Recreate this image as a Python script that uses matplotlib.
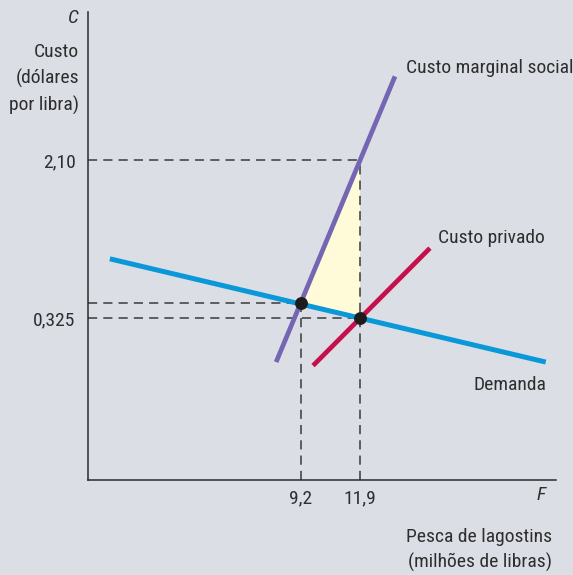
import matplotlib
matplotlib.use("Agg")
import matplotlib.pyplot as plt

# curvas (milhões de libras, dólares por libra)
demanda_x = [0.45, 20.4]
demanda_y = [0.99, -0.17]
cms_x = [8.06, 13.5]          # custo marginal social
cms_y = [-0.17, 3.04]
privado_x = [9.75, 15.1]
privado_y = [-0.21, 1.11]

# equilíbrios
eq_x = [9.2, 11.9]
eq_y = [0.49, 0.325]
cms_em_119 = 2.10

x_ticks = [9.2, 11.9]
x_labels = ["9,2", "11,9"]
y_ticks = [0.325, 2.10]
y_labels = ["0,325", "2,10"]

plt.rcParams["font.family"] = ["Roboto Condensed", "Liberation Sans Narrow", "Roboto", "DejaVu Sans"]

fundo = "#dcdee6"
cor_txt = "#2e2e2e"
fig = plt.figure(figsize=(5.73, 5.75), dpi=100, facecolor=fundo)
ax = fig.add_axes([88 / 573, 95 / 575, 468 / 573, 468 / 575], facecolor=fundo)
ax.set_xlim(-0.55, 20.87)
ax.set_ylim(-1.495, 3.763)
for s in ["top", "right"]:
    ax.spines[s].set_visible(False)
for s in ["left", "bottom"]:
    ax.spines[s].set_color("#2a2a2a")
    ax.spines[s].set_linewidth(1.1)

# área de peso morto
ax.fill([eq_x[0], eq_x[1], eq_x[1]], [eq_y[0], cms_em_119, eq_y[1]],
        color="#fffbd9", zorder=1, lw=0)

# linhas tracejadas de referência
tr = dict(color="#3a3a3a", lw=1.1, dashes=(6, 4), zorder=2)
ax.plot([-0.55, eq_x[1]], [cms_em_119, cms_em_119], **tr)
ax.plot([-0.55, eq_x[0]], [eq_y[0], eq_y[0]], **tr)
ax.plot([-0.55, eq_x[1]], [eq_y[1], eq_y[1]], **tr)
ax.plot([eq_x[0], eq_x[0]], [-1.495, eq_y[0]], **tr)
ax.plot([eq_x[1], eq_x[1]], [-1.495, cms_em_119], **tr)

ax.plot(demanda_x, demanda_y, color="#0a98d8", lw=3.6, solid_capstyle="butt", zorder=3)
ax.plot(cms_x, cms_y, color="#7466b3", lw=3.4, solid_capstyle="butt", zorder=3)
ax.plot(privado_x, privado_y, color="#c6104e", lw=3.4, solid_capstyle="butt", zorder=3)
ax.scatter(eq_x, eq_y, s=68, color="#1c1c1c", zorder=5)

fs = 14
ax.set_xticks(x_ticks, x_labels)
ax.set_yticks(y_ticks, y_labels)
ax.tick_params(length=0, labelsize=fs, colors=cor_txt, pad=9)
ax.tick_params(axis="x", pad=7)

ax.text(14.0, 3.13, "Custo marginal social", fontsize=fs, color=cor_txt, va="center")
ax.text(15.45, 1.22, "Custo privado", fontsize=fs, color=cor_txt, va="center")
ax.text(20.45, -0.43, "Demanda", fontsize=fs, color=cor_txt, va="center", ha="right")

fig.text(79 / 573, 1 - 18 / 575, "C", fontsize=fs, style="italic", color=cor_txt,
         ha="right", va="center")
fig.text(79 / 573, 1 - 79 / 575, "Custo\n(dólares\npor libra)", fontsize=fs,
         color=cor_txt, ha="right", va="center", linespacing=1.5)
fig.text(546 / 573, 1 - 495 / 575, "F", fontsize=fs, style="italic", color=cor_txt,
         ha="right", va="center")
fig.text(552 / 573, 1 - 550 / 575, "Pesca de lagostins\n(milhões de libras)", fontsize=fs,
         color=cor_txt, ha="right", va="center", linespacing=1.42)

fig.savefig("out.png", dpi=100, facecolor=fundo)
